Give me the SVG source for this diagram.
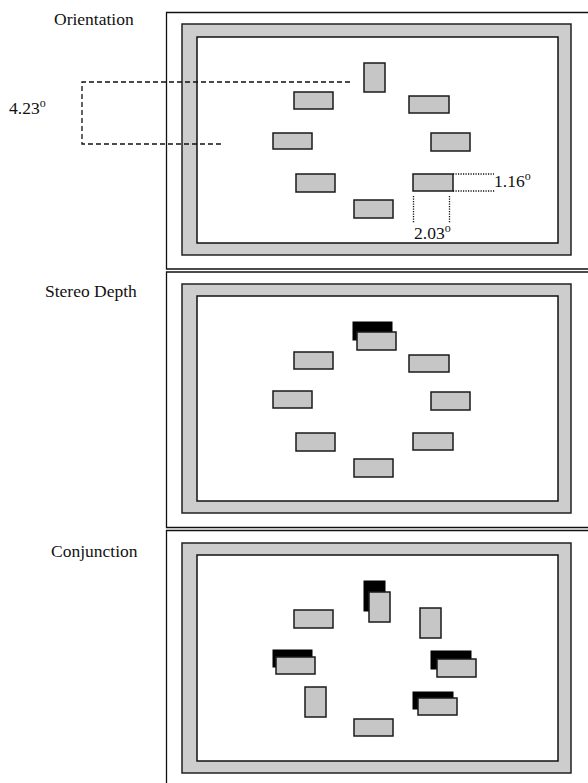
<svg xmlns="http://www.w3.org/2000/svg" width="588" height="783" viewBox="0 0 588 783">
<style>
  .bg { fill: #ffffff; }
  .box { fill: none; stroke: #111; stroke-width: 1.3; }
  .frame { fill: #cdcdcd; stroke: #222; stroke-width: 1.5; }
  .inner { fill: #ffffff; stroke: #111; stroke-width: 1.5; }
  .stim { fill: #c6c6c6; stroke: #1a1a1a; stroke-width: 1.5; }
  .blk { fill: #000; stroke: #000; stroke-width: 1; }
  .lbl { font-family: "Liberation Serif", "Times New Roman", serif; font-size: 17.5px; fill: #111; }
  .sup { font-size: 12px; }
  .dash { fill: none; stroke: #111; stroke-width: 1.3; stroke-dasharray: 5 3; }
  .dot { fill: none; stroke: #111; stroke-width: 1.3; stroke-dasharray: 1.2 1.3; }
</style>
<rect class="bg" x="0" y="0" width="588" height="783"/>

<g id="panel-orientation">
  <text class="lbl" x="54" y="25">Orientation</text>
  <path class="box" d="M588,12.5 H166.5 V269 H588"/>
  <rect class="frame" x="182" y="24" width="389" height="231"/>
  <rect class="inner" x="197" y="37" width="361" height="206"/>
  <g id="o-top"><rect class="stim" x="364" y="63" width="21" height="29"/></g>
  <g id="o-ul"><rect class="stim" x="294" y="92" width="39" height="17"/></g>
  <g id="o-ur"><rect class="stim" x="409" y="96" width="40" height="17"/></g>
  <g id="o-l"><rect class="stim" x="273" y="133" width="39" height="16"/></g>
  <g id="o-r"><rect class="stim" x="431" y="133" width="39" height="18"/></g>
  <g id="o-ll"><rect class="stim" x="296" y="174" width="39" height="18"/></g>
  <g id="o-lr"><rect class="stim" x="413" y="174" width="40" height="17"/></g>
  <g id="o-b"><rect class="stim" x="354" y="200" width="39" height="18"/></g>
</g>

<g id="connectors">
  <path class="dash" d="M350,82 H82 V144 H221"/>
  <path class="dot" d="M453,174 H494 M453,191 H495"/>
  <path class="dot" d="M413.5,196 V223 M449.5,196 V223"/>
</g>

<g id="measure-labels">
  <text class="lbl" x="9" y="114">4.23<tspan class="sup" dy="-7">o</tspan></text>
  <text class="lbl" x="494" y="187">1.16<tspan class="sup" dy="-7">o</tspan></text>
  <text class="lbl" x="414" y="239">2.03<tspan class="sup" dy="-7">o</tspan></text>
</g>

<g id="panel-stereo">
  <text class="lbl" x="45" y="297">Stereo Depth</text>
  <path class="box" d="M588,272 H166.5 V527.5 H588"/>
  <rect class="frame" x="182" y="284" width="389" height="229"/>
  <rect class="inner" x="197" y="296" width="361" height="205"/>
  <g id="s-top"><rect class="blk" x="353" y="322" width="39" height="18"/><rect class="stim" x="357" y="332" width="39" height="18"/></g>
  <g id="s-ul"><rect class="stim" x="294" y="352" width="39" height="17"/></g>
  <g id="s-ur"><rect class="stim" x="409" y="355" width="40" height="17"/></g>
  <g id="s-l"><rect class="stim" x="273" y="391" width="39" height="17"/></g>
  <g id="s-r"><rect class="stim" x="431" y="392" width="39" height="18"/></g>
  <g id="s-ll"><rect class="stim" x="296" y="433" width="39" height="18"/></g>
  <g id="s-lr"><rect class="stim" x="413" y="433" width="40" height="17"/></g>
  <g id="s-b"><rect class="stim" x="354" y="459" width="39" height="18"/></g>
</g>

<g id="panel-conjunction">
  <text class="lbl" x="51" y="557">Conjunction</text>
  <path class="box" d="M588,530.5 H166.5 V783"/>
  <rect class="frame" x="182" y="543" width="389" height="230"/>
  <rect class="inner" x="197" y="555" width="361" height="206"/>
  <g id="c-top"><rect class="blk" x="364" y="581" width="21" height="30"/><rect class="stim" x="369" y="592" width="21" height="30"/></g>
  <g id="c-ul"><rect class="stim" x="294" y="610" width="39" height="18"/></g>
  <g id="c-ur"><rect class="stim" x="420" y="608" width="21" height="30"/></g>
  <g id="c-l"><rect class="blk" x="273" y="650" width="39" height="17"/><rect class="stim" x="276" y="657" width="39" height="17"/></g>
  <g id="c-r"><rect class="blk" x="431" y="651" width="40" height="18"/><rect class="stim" x="437" y="659" width="39" height="18"/></g>
  <g id="c-ll"><rect class="stim" x="305" y="687" width="21" height="30"/></g>
  <g id="c-lr"><rect class="blk" x="413" y="692" width="40" height="17"/><rect class="stim" x="418" y="698" width="39" height="17"/></g>
  <g id="c-b"><rect class="stim" x="354" y="719" width="39" height="17"/></g>
</g>
</svg>
